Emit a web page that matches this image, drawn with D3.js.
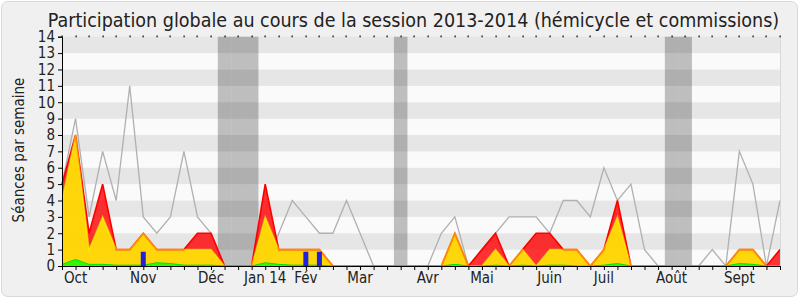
<!DOCTYPE html>
<html>
<head>
<meta charset="utf-8">
<script src="https://cdn.jsdelivr.net/npm/d3@7"></script>
<style>
  html, body { margin: 0; padding: 0; background: #ffffff; }
  svg { display: block; }
  text { font-family: 'DejaVu Sans Condensed', 'DejaVu Sans', sans-serif; font-stretch: condensed; fill: #222; }
</style>
</head>
<body>
<svg id="chart" width="800" height="300"></svg>
<script>
// ---------- data (one value per week of the session) ----------
const titleText = "Participation globale au cours de la session 2013-2014 (hémicycle et commissions)";
const yTitle = "Séances par semaine";
const yTicks = [0,1,2,3,4,5,6,7,8,9,10,11,12,13,14];
const monthLabels = ["Oct","Nov","Déc","Jan 14","Fév","Mar","Avr","Mai","Juin","Juil","Août","Sept"];
const monthWeeks  = [1, 6, 11, 15, 18, 22, 27, 31, 36, 40, 45, 50];
const vacationWeeks = [12, 13, 14, 25, 45, 46];

// grey line
const mediane = [5,9,3,7,4,11,3,2,3,7, 3,2,0,0,0,0,2,4,3,2, 2,4,2,0,0,0,0,0,2,3,
                 0,1,2,3,3,3,2,4,4,3, 6,4,5,1,0,0,0,0,1,0, 7,5,0,4];
// red area
const presences = [5,8,2,5,1,1,2,1,1,1, 2,2,0,0,0,5,1,1,1,1, 0,0,0,0,0,0,0,0,0,2,
                   0,1,2,0,1,2,2,1,1,0, 1,4,0,0,0,0,0,0,0,0, 1,1,0,1];
// yellow area
const participations = [4,8,1,3,1,1,2,1,1,1, 1,1,0,0,0,3,1,1,1,1, 0,0,0,0,0,0,0,0,0,2,
                        0,0,1,0,1,0,1,1,1,0, 1,3,0,0,0,0,0,0,0,0, 1,1,0,0];
// green area
const interventions = [0.1,0.4,0.1,0.1,0.05,0.05,0.05,0.2,0.15,0.05, 0.05,0.05,0,0,0,0.2,0.1,0.05,0.05,0.05,
                       0,0,0,0,0,0,0,0,0,0.1, 0,0,0.05,0,0.05,0,0.05,0.05,0,0,
                       0.05,0.15,0,0,0,0,0,0,0,0, 0.15,0.1,0,0];
// blue bars
const questions = [0,0,0,0,0,0,0.87,0,0,0, 0,0,0,0,0,0,0,0,0.87,0.87, 0,0,0,0,0,0,0,0,0,0,
                   0,0,0,0,0,0,0,0,0,0, 0,0,0,0,0,0,0,0,0,0, 0,0,0,0];

// ---------- drawing ----------
const svg = d3.select("#chart");
const mLeft = 62, mRight = 780, mTop = 36.7, mBottom = 266;
const nWeeks = mediane.length;
const weeks = d3.range(nWeeks);

const x = d3.scaleLinear().domain([0, nWeeks - 1]).range([mLeft, mRight]);
const y = d3.scaleLinear().domain([0, 14]).range([mBottom, mTop]);
const step = x(1) - x(0);

// frame
svg.append("rect").attr("x", 1.5).attr("y", 1.5).attr("width", 796).attr("height", 295)
  .attr("rx", 6).attr("fill", "#f0f0f0").attr("stroke", "#d9d9d9");

// plot background bands
svg.append("g").selectAll("rect").data(yTicks.slice(0, -1)).join("rect")
  .attr("x", mLeft).attr("width", mRight - mLeft)
  .attr("y", d => y(d + 1)).attr("height", d => y(d) - y(d + 1))
  .attr("fill", d => d % 2 === 1 ? "#e6e6e6" : "#fafafa");

// vacations
svg.append("g").selectAll("rect").data(vacationWeeks).join("rect")
  .attr("x", d => x(d - 0.5)).attr("width", step)
  .attr("y", mTop).attr("height", mBottom - mTop)
  .attr("fill", "rgba(0,0,0,0.24)");

// grey line
const line = d3.line().x((d, i) => x(i)).y(d => y(d));
svg.append("path").datum(mediane).attr("d", line)
  .attr("fill", "none").attr("stroke", "#b0b0b0").attr("stroke-width", 1.3);

const area = d3.area().x((d, i) => x(i)).y0(y(0)).y1(d => y(d));

svg.append("path").datum(presences).attr("d", area).attr("fill", "rgba(255,0,0,0.8)");
svg.append("path").datum(participations).attr("d", area).attr("fill", "rgba(255,255,0,0.8)");
svg.append("path").datum(interventions).attr("d", area).attr("fill", "rgba(0,255,0,0.8)");

svg.append("path").datum(presences).attr("d", line)
  .attr("fill", "none").attr("stroke", "#ff0000").attr("stroke-width", 1.6);
svg.append("path").datum(participations).attr("d", line)
  .attr("fill", "none").attr("stroke", "rgba(255,255,0,0.55)").attr("stroke-width", 1.6);
svg.append("path").datum(interventions).attr("d", line)
  .attr("fill", "none").attr("stroke", "#00e000").attr("stroke-width", 1);

// blue bars
svg.append("g").selectAll("rect").data(weeks.filter(i => questions[i] > 0)).join("rect")
  .attr("x", i => x(i) - 2.5).attr("width", 5)
  .attr("y", i => y(questions[i])).attr("height", i => y(0) - y(questions[i]))
  .attr("fill", "#2222dd");

// right border
svg.append("line").attr("x1", mRight + 0.5).attr("x2", mRight + 0.5).attr("y1", mTop).attr("y2", mBottom)
  .attr("stroke", "#d8d8d8");

// top dotted ticks
svg.append("g").selectAll("rect").data(weeks).join("rect")
  .attr("x", i => Math.round(x(i)) - 0.5).attr("width", 1.2)
  .attr("y", mTop - 1.2).attr("height", 1.8).attr("fill", "#000");

// axes
const yAxis = d3.axisLeft(y).tickValues(yTicks).tickSize(4).tickPadding(3).tickFormat(d3.format("d"));
const gy = svg.append("g").attr("transform", `translate(${mLeft},0)`).call(yAxis);
gy.selectAll("text").attr("font-size", 15).attr("font-family", null).style("fill", "#222");
gy.selectAll("line, path").attr("stroke", "#000");

const xAxis = d3.axisBottom(x).tickValues(weeks).tickSize(4).tickFormat("");
const gx = svg.append("g").attr("transform", `translate(0,${mBottom})`).call(xAxis);
gx.selectAll("line, path").attr("stroke", "#000");
gx.select(".domain").attr("d", `M${mLeft},0.5H${mRight}`);

svg.append("g").selectAll("text").data(monthLabels).join("text")
  .attr("x", (d, i) => x(monthWeeks[i]))
  .attr("y", 283)
  .attr("text-anchor", "middle").attr("font-size", 15)
  .text(d => d);

// titles
svg.append("text").attr("x", 413.5).attr("y", 27).attr("text-anchor", "middle")
  .attr("font-size", 19.5).text(titleText);

svg.append("text").attr("transform", "translate(24,150) rotate(-90)")
  .attr("text-anchor", "middle").attr("font-size", 15).text(yTitle);
</script>
</body>
</html>
